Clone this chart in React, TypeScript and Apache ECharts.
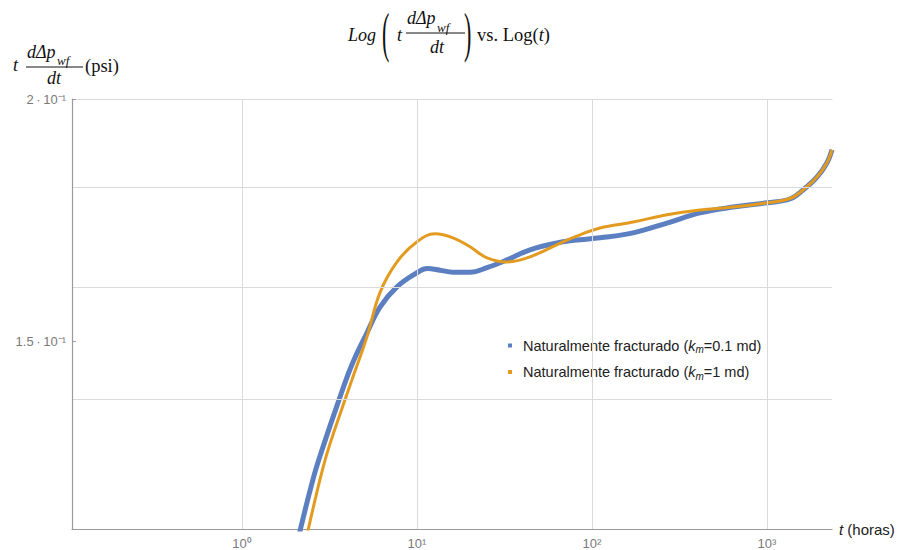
import { useEffect, useRef } from 'react';
import * as echarts from 'echarts';

// Time (hours) and t·dΔp/dt (psi)
const tBlue = [2.089, 2.545, 2.904, 3.584, 4.252, 5.179, 6.145, 7.686, 10.0, 11.41, 13.53, 16.06, 20.09, 25.12, 32.67, 44.24, 68.27, 85.4, 111.1, 171.5, 268.3, 414.0, 639.2, 1000, 1353, 1606, 1931, 2203, 2352];
const yBlue = [0.1185, 0.1273, 0.1323, 0.1399, 0.1459, 0.1515, 0.1562, 0.1600, 0.1627, 0.1635, 0.1632, 0.1628, 0.1628, 0.1637, 0.1652, 0.1672, 0.1688, 0.1692, 0.1696, 0.1706, 0.1726, 0.1747, 0.1759, 0.1768, 0.1776, 0.1795, 0.1823, 0.1854, 0.1883];
const tOrange = [2.321, 2.791, 3.142, 3.878, 4.252, 5.179, 6.145, 7.686, 10.0, 12.67, 16.06, 20.09, 25.12, 32.67, 44.24, 68.27, 85.4, 111.1, 171.5, 268.3, 414.0, 639.2, 1000, 1353, 1606, 1931, 2203, 2352];
const yOrange = [0.1185, 0.1273, 0.1323, 0.1399, 0.1433, 0.1508, 0.1589, 0.1648, 0.1688, 0.1704, 0.1696, 0.1678, 0.1656, 0.1648, 0.1658, 0.1688, 0.1702, 0.1716, 0.1728, 0.1743, 0.1753, 0.1759, 0.1768, 0.1777, 0.1795, 0.1823, 0.1854, 0.1883];

const seriesNames = ['Naturalmente fracturado (km=0.1 md)', 'Naturalmente fracturado (km=1 md)'];
const kmValues = ['0.1', '1'];

const xTicks = [1, 10, 100, 1000];
const xTickLabels = ['10⁰', '10¹', '10²', '10³'];
const yGrid = [0.14, 0.16, 0.18];
const yTicks = [0.15, 0.2];
const yTickLabels = ['1.5\u2009·\u200910⁻¹', '2\u2009·\u200910⁻¹'];

const xMin = 0.1068;
const xMax = 2352;
const yMin = 0.12;
const yMax = 0.2;
const yTickEndX = 0.1125; // short inner tick on the y axis

const mathFont = '"Liberation Serif", "DejaVu Serif", serif';
const sansFont = '"Liberation Sans", Arial, sans-serif';

function txt(x: number, y: number, text: string, size: number, italic: boolean, align: string = 'left', scaleY: number = 1) {
  return {
    type: 'text',
    x,
    y,
    scaleY,
    silent: true,
    style: {
      text,
      fontSize: size,
      fontFamily: mathFont,
      fontStyle: italic ? 'italic' : 'normal',
      fill: '#111',
      align,
      verticalAlign: 'middle',
    },
  };
}

function hline(x1: number, x2: number, y: number) {
  return {
    type: 'line',
    silent: true,
    shape: { x1, y1: y, x2, y2: y },
    style: { stroke: '#111', lineWidth: 1 },
  };
}

export default function App() {
  const ref = useRef<HTMLDivElement>(null);

  useEffect(() => {
    if (!ref.current) return;
    const chart = echarts.init(ref.current, undefined, { renderer: 'svg' });

    const blueData = tBlue.map((t, i) => [t, yBlue[i]]);
    const orangeData = tOrange.map((t, i) => [t, yOrange[i]]);

    const gridMarks: any[] = [];
    xTicks.forEach((v) => gridMarks.push({ xAxis: v }));
    yGrid.forEach((v) => gridMarks.push({ yAxis: v }));

    const tickMarks: any[] = yTicks.map((v, i) => [
      {
        coord: [xMin, v],
        label: {
          show: true,
          position: 'start',
          distance: 6,
          formatter: yTickLabels[i],
          color: '#7a7a7a',
          fontSize: 13,
          fontFamily: sansFont,
        },
      },
      { coord: [yTickEndX, v] },
    ]);

    const legendFormatter = (name: string) => {
      const idx = seriesNames.indexOf(name);
      return `{a|Naturalmente fracturado (}{i|k}{s|m}{a|=${kmValues[idx]} md)}`;
    };

    const option: any = {
      animation: false,
      backgroundColor: '#ffffff',
      grid: { left: 72, top: 99, right: 74, bottom: 21, containLabel: false },
      xAxis: [
        {
          type: 'log',
          min: xMin,
          max: xMax,
          name: '{i|t} (horas)',
          nameLocation: 'end',
          nameGap: 7,
          nameTextStyle: {
            color: '#222',
            fontSize: 15,
            fontFamily: sansFont,
            rich: { i: { fontStyle: 'italic', fontSize: 15, fontFamily: sansFont, color: '#222' } },
          },
          axisLine: { show: true, lineStyle: { color: '#9a9a9a', width: 1.2 } },
          axisTick: { show: false },
          splitLine: { show: false },
          axisLabel: {
            show: true,
            margin: 8,
            color: '#7a7a7a',
            fontSize: 13,
            fontFamily: sansFont,
            showMinLabel: true,
            showMaxLabel: true,
            formatter: (v: number) => {
              const idx = xTicks.findIndex((t) => Math.abs(t - v) / t < 1e-6);
              return idx >= 0 ? xTickLabels[idx] : '';
            },
          },
        },
        {
          type: 'log',
          position: 'top',
          min: xMin,
          max: xMax,
          axisLine: { show: true, lineStyle: { color: '#dadada', width: 1 } },
          axisTick: { show: false },
          axisLabel: { show: false },
          splitLine: { show: false },
        },
      ],
      yAxis: {
        type: 'log',
        min: yMin,
        max: yMax,
        axisLine: { show: true, lineStyle: { color: '#9a9a9a', width: 1.2 } },
        axisTick: { show: false },
        splitLine: { show: false },
        axisLabel: { show: false },
        z: 5,
      },
      legend: {
        orient: 'vertical',
        left: 503,
        top: 333,
        icon: 'rect',
        itemWidth: 4,
        itemHeight: 4,
        itemGap: 10,
        data: seriesNames,
        formatter: legendFormatter,
        textStyle: {
          color: '#222',
          fontSize: 15,
          fontFamily: sansFont,
          padding: [0, 0, 0, 6],
          rich: {
            a: { fontSize: 14.5, fontFamily: sansFont, color: '#222', lineHeight: 17 },
            i: { fontSize: 14.5, fontFamily: sansFont, fontStyle: 'italic', color: '#222', lineHeight: 17 },
            s: { fontSize: 10, fontFamily: sansFont, fontStyle: 'italic', color: '#222', padding: [8, 0, 0, 0] },
          },
        },
      },
      series: [
        {
          type: 'line',
          name: '__grid',
          data: [[1, 0.15]],
          showSymbol: false,
          symbol: 'none',
          lineStyle: { opacity: 0 },
          silent: true,
          z: 1,
          markLine: {
            silent: true,
            symbol: ['none', 'none'],
            animation: false,
            label: { show: false },
            lineStyle: { color: '#dadada', width: 1, type: 'solid' },
            emphasis: { disabled: true },
            data: gridMarks,
          },
        },
        {
          type: 'line',
          name: '__ticks',
          data: [[1, 0.15]],
          showSymbol: false,
          symbol: 'none',
          lineStyle: { opacity: 0 },
          silent: true,
          z: 6,
          markLine: {
            silent: true,
            symbol: ['none', 'none'],
            animation: false,
            lineStyle: { color: '#9a9a9a', width: 1, type: 'solid' },
            emphasis: { disabled: true },
            data: tickMarks,
          },
        },
        {
          type: 'line',
          name: seriesNames[0],
          data: blueData,
          smooth: 0.4,
          showSymbol: false,
          symbol: 'none',
          color: '#5b7fc1',
          lineStyle: { color: '#5b7fc1', width: 5 },
          z: 3,
          clip: true,
        },
        {
          type: 'line',
          name: seriesNames[1],
          data: orangeData,
          smooth: 0.4,
          showSymbol: false,
          symbol: 'none',
          color: '#e39b1f',
          lineStyle: { color: '#e39b1f', width: 3 },
          z: 4,
          clip: true,
        },
      ],
      graphic: [
        // Title: Log( t dΔp_wf/dt ) vs. Log(t)
        txt(348, 35, 'Log', 18, true),
        txt(382, 33, '(', 22, false, 'left', 2.5),
        txt(397, 35, 't', 18, true),
        txt(407, 18, 'dΔp', 18, true),
        txt(437, 27, 'wf', 13, true),
        hline(406, 465, 33),
        txt(437, 47, 'dt', 18, true, 'center'),
        txt(464, 33, ')', 22, false, 'left', 2.5),
        {
          type: 'text',
          x: 477,
          y: 35,
          silent: true,
          style: {
            text: '{r|vs. Log(}{i|t}{r|)}',
            verticalAlign: 'middle',
            rich: {
              r: { fontSize: 18.5, fontFamily: mathFont, fill: '#111', color: '#111' },
              i: { fontSize: 18.5, fontFamily: mathFont, fontStyle: 'italic', fill: '#111', color: '#111' },
            },
          },
        },
        // Y axis name: t dΔp_wf/dt (psi)
        txt(13, 65, 't', 18, true),
        txt(27, 52, 'dΔp', 18, true),
        txt(57, 60, 'wf', 13, true),
        hline(26, 83, 67),
        txt(54, 78, 'dt', 18, true, 'center'),
        txt(85, 66, '(psi)', 18.5, false),
      ],
    };

    chart.setOption(option);
    return () => {
      chart.dispose();
    };
  }, []);

  return (
    <div
      ref={ref}
      style={{ position: 'fixed', left: 0, top: 0, width: 906, height: 550, background: '#fff' }}
    />
  );
}
